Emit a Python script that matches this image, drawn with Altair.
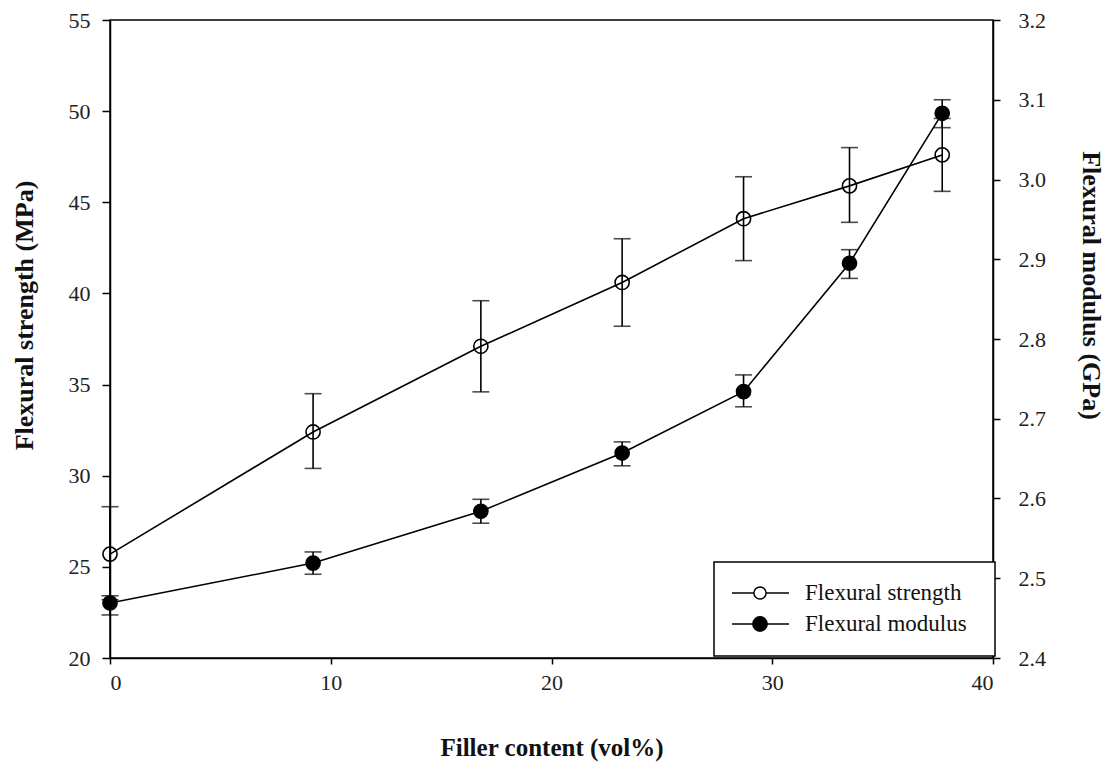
import altair as alt
import pandas as pd

# ---- data ----
filler = [0, 9.2, 16.8, 23.2, 28.7, 33.5, 37.7]
strength = [25.7, 32.4, 37.1, 40.6, 44.1, 45.9, 47.6]
strength_lo = [23.2, 30.4, 34.6, 38.2, 41.8, 43.9, 45.6]
strength_hi = [28.3, 34.5, 39.6, 43.0, 46.4, 48.0, 49.6]
modulus = [2.469, 2.519, 2.584, 2.657, 2.734, 2.895, 3.083]
modulus_lo = [2.454, 2.505, 2.569, 2.641, 2.715, 2.876, 3.065]
modulus_hi = [2.478, 2.533, 2.599, 2.671, 2.755, 2.912, 3.100]
legend_labels = ["Flexural strength", "Flexural modulus"]

x_ticks = [0, 10, 20, 30, 40]
left_ticks = [20, 25, 30, 35, 40, 45, 50, 55]
right_ticks = [2.4, 2.5, 2.6, 2.7, 2.8, 2.9, 3.0, 3.1, 3.2]

FONT = "Liberation Serif"

df_s = pd.DataFrame({"x": filler, "y": strength, "lo": strength_lo, "hi": strength_hi})
df_m = pd.DataFrame({"x": filler, "y": modulus, "lo": modulus_lo, "hi": modulus_hi})

x_axis = alt.Axis(title="Filler content (vol%)", values=x_ticks, grid=False,
                  tickSize=6, labelPadding=8, labelFontSize=22,
                  titleFontSize=25, titleY=89, titleBaseline="middle")
x_enc = alt.X("x:Q", scale=alt.Scale(domain=[0, 40], nice=False, zero=False), axis=x_axis)

left_axis = alt.Axis(title="Flexural strength (MPa)", values=left_ticks, grid=False,
                     tickSize=8, labelPadding=12, titleX=-86, titleY=295,
                     titleBaseline="middle", labelFontSize=22, titleFontSize=26)
right_axis = alt.Axis(title="Flexural modulus (GPa)", orient="right", values=right_ticks,
                      format=".1f", grid=False, tickSize=7, labelPadding=18,
                      titleX=97, titleY=265, titleBaseline="middle",
                      labelFontSize=22, titleFontSize=26)

s_scale = alt.Scale(domain=[20, 55], nice=False, zero=False)
m_scale = alt.Scale(domain=[2.4, 3.2], nice=False, zero=False)


def series(df, scale, axis, filled):
    base = alt.Chart(df)
    line = base.mark_line(color="black", strokeWidth=1.6).encode(
        x=x_enc, y=alt.Y("y:Q", scale=scale, axis=axis))
    bar = base.mark_rule(color="black", strokeWidth=1.6).encode(
        x=x_enc, y=alt.Y("lo:Q", scale=scale, axis=axis), y2="hi:Q")
    cap_lo = base.mark_tick(color="black", orient="horizontal", size=17, thickness=1.6).encode(
        x=x_enc, y=alt.Y("lo:Q", scale=scale, axis=axis))
    cap_hi = base.mark_tick(color="black", orient="horizontal", size=17, thickness=1.6).encode(
        x=x_enc, y=alt.Y("hi:Q", scale=scale, axis=axis))
    if filled:
        pts = base.mark_point(shape="circle", size=210, filled=True, fill="black",
                              stroke="black", strokeWidth=1.2, opacity=1).encode(
            x=x_enc, y=alt.Y("y:Q", scale=scale, axis=axis))
    else:
        pts = base.mark_point(shape="circle", size=200, filled=False, stroke="black",
                              strokeWidth=1.6, opacity=1).encode(
            x=x_enc, y=alt.Y("y:Q", scale=scale, axis=axis))
    return alt.layer(line, bar, cap_lo, cap_hi, pts)


strength_layer = series(df_s, s_scale, left_axis, False)
modulus_layer = series(df_m, m_scale, right_axis, True)

# ---- legend box (drawn as decoration) ----
dummy = pd.DataFrame({"k": [0]})
leg_box = alt.Chart(dummy).mark_rect(fill="white", stroke="black", strokeWidth=1.5).encode(
    x=alt.value(604), x2=alt.value(885), y=alt.value(542), y2=alt.value(636))
leg_items = [leg_box]
for i, (lab, filled) in enumerate(zip(legend_labels, [False, True])):
    ypix = 573 + 31 * i
    leg_items.append(alt.Chart(dummy).mark_rule(color="black", strokeWidth=1.6).encode(
        x=alt.value(622), x2=alt.value(679), y=alt.value(ypix)))
    if filled:
        leg_items.append(alt.Chart(dummy).mark_point(shape="circle", size=190, filled=True,
                                                     fill="black", stroke="black", opacity=1).encode(
            x=alt.value(650), y=alt.value(ypix)))
    else:
        leg_items.append(alt.Chart(dummy).mark_point(shape="circle", size=150, filled=True,
                                                     fill="white", stroke="black",
                                                     strokeWidth=1.5, opacity=1).encode(
            x=alt.value(650), y=alt.value(ypix)))
    leg_items.append(alt.Chart(dummy).mark_text(text=lab, align="left", baseline="middle",
                                                font=FONT, fontSize=23, color="#111").encode(
        x=alt.value(695), y=alt.value(ypix)))
legend_layer = alt.layer(*leg_items)

chart = alt.layer(strength_layer, modulus_layer, legend_layer).resolve_scale(
    y="independent"
).properties(
    width=883, height=638,
    autosize=alt.AutoSizeParams(type="none"),
    padding={"left": 110, "top": 20, "right": 117, "bottom": 110},
    background="white",
).configure_view(
    stroke="black", strokeWidth=1.5
).configure_axis(
    labelFont=FONT, titleFont=FONT, labelColor="#222", titleColor="#111",
    titleFontWeight="bold", domainColor="black", domainWidth=1.5,
    tickColor="black", tickWidth=1.5,
)

chart.save("out.html", embed_options={"renderer": "svg", "actions": False})
